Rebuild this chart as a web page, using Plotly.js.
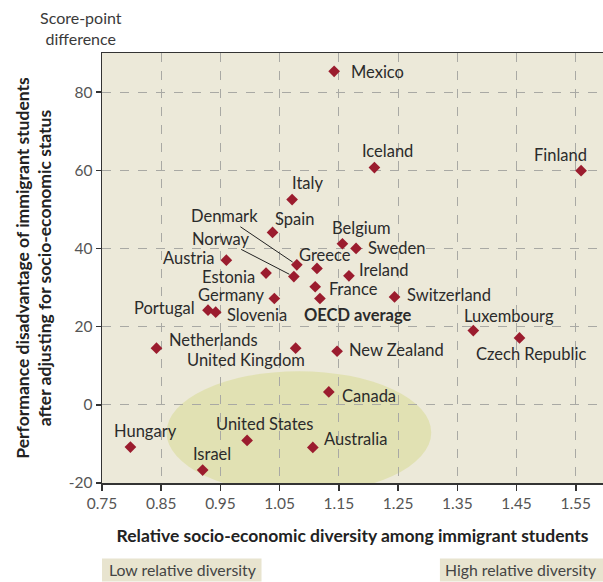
<!DOCTYPE html>
<html>
<head>
<meta charset="utf-8">
<script src="https://cdn.plot.ly/plotly-3.0.1.min.js"></script>
<style>html,body{margin:0;padding:0;background:#fff;}#chart{width:603px;height:582px;}</style>
</head>
<body>
<div id="chart"></div>
<script>
// ---- data ----
const countries = ["Mexico","Iceland","Finland","Italy","Spain","Denmark","Norway","Greece","Austria","Estonia","Germany","Portugal","Slovenia","France","OECD average","Netherlands","United Kingdom","Belgium","Sweden","Ireland","Switzerland","Luxembourg","Czech Republic","New Zealand","Hungary","Israel","United States","Canada","Australia"];
const diversity = [1.142,1.210,1.559,1.071,1.038,1.079,1.074,1.113,0.960,1.027,1.041,0.929,0.942,1.110,1.118,0.842,1.077,1.156,1.179,1.167,1.244,1.377,1.455,1.147,0.798,0.920,0.995,1.133,1.106];
const disadvantage = [85.3,60.7,59.9,52.5,44.1,35.8,32.8,34.9,37.0,33.7,27.2,24.2,23.7,30.2,27.2,14.5,14.5,41.2,40.0,33.0,27.6,19.0,17.1,13.7,-10.8,-16.7,-9.1,3.3,-10.9];
const xTicks = [0.75,0.85,0.95,1.05,1.15,1.25,1.35,1.45,1.55];
const yTicks = [-20,0,20,40,60,80];
const yTickLabels = ["-20","0","20","40","60","80"];
const groupLabels = ["Low relative diversity","High relative diversity"];

// ---- label placement (styles/positions) ----
// [xanchor, xshift, yshift] ; "arrow" entries use [ "arrow", ax, ay ]
const labelPos = {
  "Mexico":["left",15.7,-1],
  "Iceland":["center",13.5,16.3],
  "Finland":["center",-20.5,16],
  "Italy":["center",15.5,16.7],
  "Spain":["center",22,13.7],
  "Denmark":["arrow",-72,-48.6],
  "Norway":["arrow",-73,-37.7],
  "Greece":["center",8,13],
  "Austria":["right",-11.7,2.4],
  "Estonia":["right",-10.3,-4],
  "Germany":["right",-9.7,3.3],
  "Portugal":["right",-11.6,2.4],
  "Slovenia":["left",10,-3.3],
  "France":["left",12.4,-2.7],
  "OECD average":["left",-16.7,-17],
  "Netherlands":["left",11.3,7.7],
  "United Kingdom":["center",-49.3,-12.3],
  "Belgium":["center",19,15.3],
  "Sweden":["left",10.7,0],
  "Ireland":["left",8.7,5.6],
  "Switzerland":["left",11.7,1.6],
  "Luxembourg":["center",35.5,14.3],
  "Czech Republic":["center",11.4,-16],
  "New Zealand":["left",11.3,1.7],
  "Hungary":["center",15.5,16],
  "Israel":["center",9.8,15.7],
  "United States":["center",17.4,16.4],
  "Canada":["left",12,-4.4],
  "Australia":["left",10,8.7]
};

const FONT = "Lato, 'Open Sans', sans-serif";
const labelFont = {family: FONT, size: 16.5, color: "#2b2b2b"};

const annotations = countries.map((c, i) => {
  const p = labelPos[c];
  const bold = c === "OECD average";
  const a = {
    x: diversity[i], y: disadvantage[i], xref: "x", yref: "y",
    text: bold ? "<b>" + c + "</b>" : c,
    font: labelFont, borderpad: 0
  };
  if (p[0] === "arrow") {
    Object.assign(a, {showarrow: true, ax: p[1], ay: p[2], axref: "pixel", ayref: "pixel",
      arrowhead: 0, arrowwidth: 1, arrowcolor: "#222", standoff: 5});
  } else {
    Object.assign(a, {showarrow: false, xanchor: p[0], yanchor: "middle", xshift: p[1], yshift: p[2]});
  }
  return a;
});

annotations.push({
  xref: "paper", yref: "paper", x: -0.0425, y: 1.108, xanchor: "center", yanchor: "top",
  text: "Score-point<br>difference", showarrow: false, borderpad: 0,
  font: {family: FONT, size: 16, color: "#3a3a3a", lineposition: "none"}
});
annotations.push({
  xref: "paper", yref: "paper", x: 0.0114, y: -0.2022, xanchor: "left", yanchor: "middle",
  text: groupLabels[0], showarrow: false, borderpad: 0, font: {family: FONT, size: 15.8, color: "#444"}
});
annotations.push({
  xref: "paper", yref: "paper", x: 0.990, y: -0.2022, xanchor: "right", yanchor: "middle",
  text: groupLabels[1], showarrow: false, borderpad: 0, font: {family: FONT, size: 15.8, color: "#444"}
});

const trace = {
  type: "scatter", mode: "markers",
  x: diversity, y: disadvantage, text: countries,
  marker: {symbol: "diamond", size: 9, color: "#9b1c2e"},
  hoverinfo: "text+x+y", cliponaxis: false
};

const layout = {
  width: 603, height: 582,
  margin: {l: 102.3, r: 0, t: 53.3, b: 98.5},
  paper_bgcolor: "#ffffff",
  plot_bgcolor: "#ece9d9",
  showlegend: false,
  font: {family: FONT, color: "#333"},
  xaxis: {
    range: [0.75, 1.596], tickvals: xTicks, ticktext: xTicks.map(v => v.toFixed(2)),
    showgrid: true, gridcolor: "#a9a9a4", griddash: "dash", gridwidth: 1,
    showline: true, linecolor: "#333", linewidth: 1.5, mirror: true,
    ticks: "outside", ticklen: 6, tickcolor: "#333", tickwidth: 1.5,
    tickfont: {family: FONT, size: 15.5, color: "#555"},
    zeroline: false, fixedrange: true,
    title: {text: "<b>Relative socio-economic diversity among immigrant students</b>",
      font: {family: FONT, size: 17.5, color: "#222"}, standoff: 18}
  },
  yaxis: {
    range: [-20, 90], tickvals: yTicks, ticktext: yTickLabels,
    showgrid: true, gridcolor: "#a9a9a4", griddash: "dash", gridwidth: 1,
    showline: true, linecolor: "#333", linewidth: 1.5,
    ticks: "outside", ticklen: 5, tickcolor: "#333", tickwidth: 1.5,
    tickfont: {family: FONT, size: 15.5, color: "#555"},
    zeroline: false, fixedrange: true,
    title: {text: "<b>Performance disadvantage of immigrant students<br>after adjusting for socio-economic status</b>",
      font: {family: FONT, size: 17.5, color: "#222"}, standoff: 12}
  },
  shapes: [
    {type: "circle", xref: "x", yref: "y", x0: 0.859, x1: 1.306, y0: -22.8, y1: 8.6,
      fillcolor: "#e1e1b3", line: {width: 0}, layer: "below"},
    {type: "rect", xref: "paper", yref: "paper", x0: 0, x1: 0.3184, y0: -0.229, y1: -0.1755,
      fillcolor: "#e8e4cf", line: {width: 0}},
    {type: "rect", xref: "paper", yref: "paper", x0: 0.6745, x1: 1.0, y0: -0.229, y1: -0.1755,
      fillcolor: "#e8e4cf", line: {width: 0}}
  ],
  annotations: annotations
};

Plotly.newPlot("chart", [trace], layout, {displayModeBar: false, staticPlot: true});
</script>
</body>
</html>
